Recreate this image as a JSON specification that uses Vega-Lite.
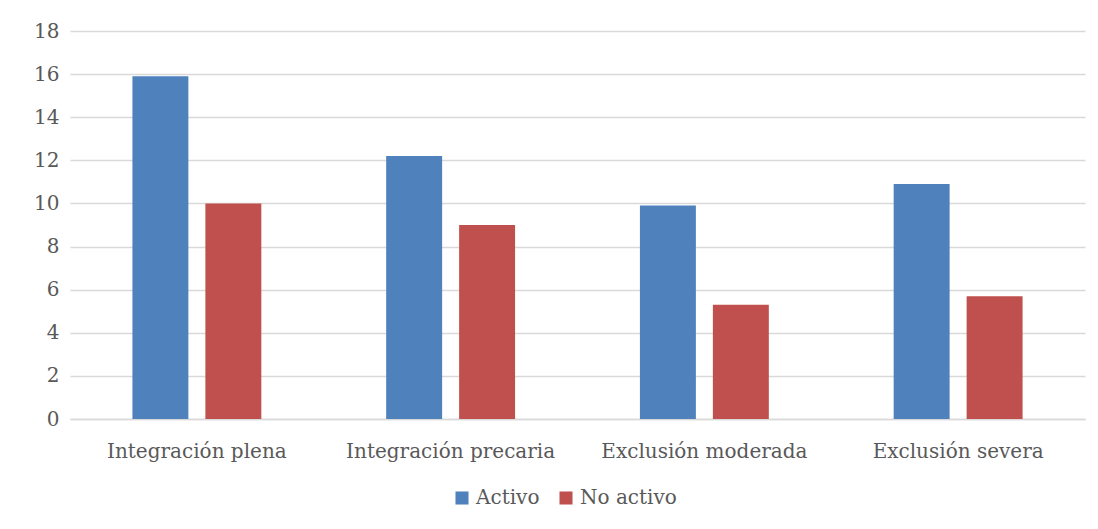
{
  "$schema": "https://vega.github.io/schema/vega-lite/v6.json",
  "width": 1015,
  "height": 388,
  "autosize": {"type": "none"},
  "padding": {"left": 70, "top": 31, "right": 13, "bottom": 110},
  "background": "white",
  "data": {
    "values": [
      {"grupo": "Integración plena", "situacion": "Activo", "valor": 15.9},
      {"grupo": "Integración plena", "situacion": "No activo", "valor": 10.0},
      {"grupo": "Integración precaria", "situacion": "Activo", "valor": 12.2},
      {"grupo": "Integración precaria", "situacion": "No activo", "valor": 9.0},
      {"grupo": "Exclusión moderada", "situacion": "Activo", "valor": 9.9},
      {"grupo": "Exclusión moderada", "situacion": "No activo", "valor": 5.3},
      {"grupo": "Exclusión severa", "situacion": "Activo", "valor": 10.9},
      {"grupo": "Exclusión severa", "situacion": "No activo", "valor": 5.7}
    ]
  },
  "mark": {"type": "bar"},
  "encoding": {
    "x": {
      "field": "grupo",
      "type": "nominal",
      "sort": null,
      "title": null,
      "scale": {"paddingInner": 0.492, "paddingOuter": 0.246},
      "axis": {
        "labelAngle": 0,
        "labelFont": "DejaVu Serif",
        "labelFontSize": 20,
        "labelColor": "#595959",
        "labelPadding": 22,
        "labelLimit": 400,
        "ticks": false,
        "domainColor": "#d9d9d9",
        "domainWidth": 1.5,
        "grid": false
      }
    },
    "xOffset": {
      "field": "situacion",
      "type": "nominal",
      "scale": {"paddingInner": 0.233, "paddingOuter": 0}
    },
    "y": {
      "field": "valor",
      "type": "quantitative",
      "title": null,
      "scale": {"domain": [0, 18], "nice": false},
      "axis": {
        "values": [0, 2, 4, 6, 8, 10, 12, 14, 16, 18],
        "labelFont": "DejaVu Serif",
        "labelFontSize": 20,
        "labelColor": "#595959",
        "labelPadding": 11,
        "ticks": false,
        "domain": false,
        "gridColor": "#d9d9d9",
        "gridWidth": 1.5
      }
    },
    "color": {
      "field": "situacion",
      "type": "nominal",
      "scale": {"domain": ["Activo", "No activo"], "range": ["#4f81bd", "#c0504d"]},
      "legend": {
        "title": null,
        "orient": "none",
        "legendX": 382,
        "legendY": 457,
        "direction": "horizontal",
        "symbolType": "square",
        "symbolSize": 170,
        "symbolStrokeWidth": 0,
        "labelFont": "DejaVu Serif",
        "labelFontSize": 20,
        "labelColor": "#595959",
        "labelOffset": 4,
        "columnPadding": 16
      }
    }
  },
  "config": {"view": {"stroke": null}}
}
